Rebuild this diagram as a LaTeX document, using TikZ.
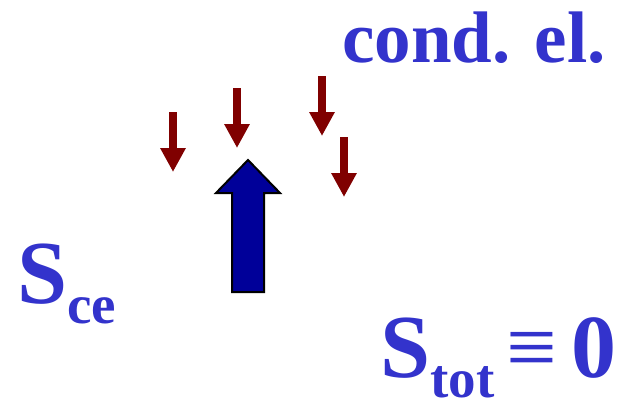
\documentclass[tikz,border=0pt]{standalone}
\usepackage{fontspec}
\setmainfont{Liberation Serif}
\usepackage{tikz}
\usetikzlibrary{
    arrows.meta         % frecce moderne
}

\definecolor{blutesto}{RGB}{51,51,204}
\definecolor{rossoscuro}{RGB}{128,0,0}
\definecolor{bluscuro}{RGB}{0,0,153}

\newcommand{\grande}{\fontsize{90}{90}\selectfont}
\newcommand{\pedice}[1]{\raisebox{-20pt}{\fontsize{55}{55}\selectfont #1}}

\begin{document}
\begin{tikzpicture}[x=1pt, y=-1pt,
    testo/.style={text=blutesto, inner sep=0pt, anchor=base west},
    frecciarossa/.style={draw=rossoscuro, line width=8pt,
        -{Triangle[length=24pt, width=24pt]}}]

        \useasboundingbox (0,0) rectangle (625,400);

        % Etichetta: conduttori
        \node[testo, font=\fontsize{73}{73}\selectfont\bfseries] (cond) at (342,62) {cond. el.};

        % Frecce piccole verso il basso
        \coordinate (r1) at (173,112);
        \coordinate (r2) at (237,88);
        \coordinate (r3) at (322,76);
        \coordinate (r4) at (344,137);
        \draw[frecciarossa] (r1) -- ++(0,60);
        \draw[frecciarossa] (r2) -- ++(0,60);
        \draw[frecciarossa] (r3) -- ++(0,60);
        \draw[frecciarossa] (r4) -- ++(0,60);

        % Freccia grande verso l'alto
        \draw[fill=bluscuro, line width=2pt, line join=miter]
            (232,292) -- (232,193) -- (216,193) -- (248,160)
            -- (280,193) -- (264,193) -- (264,292) -- cycle;

        % Etichette: entropie
        \node[testo, font=\bfseries] (sce) at (17,303) {\grande S\pedice{ce}};
        \node[testo, font=\bfseries] (stot) at (380,377)
            {\grande S\pedice{tot}\hspace{12pt}{\mdseries ≡}\hspace{14pt}0};

    \end{tikzpicture}
\end{document}
